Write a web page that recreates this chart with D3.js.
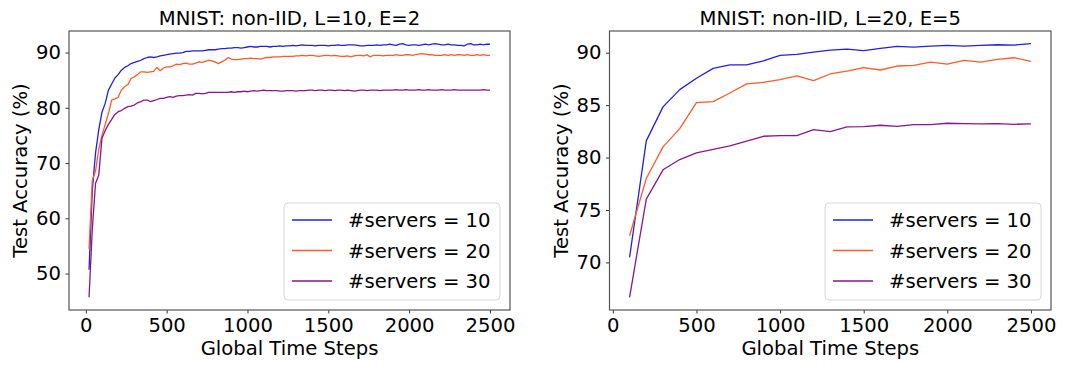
<!DOCTYPE html>
<html><head><meta charset="utf-8">
<script src="https://cdn.jsdelivr.net/npm/d3@7"></script>
<style>body{margin:0;background:#fff}svg{display:block}text{font-family:"DejaVu Sans",sans-serif;fill:#000}</style>
</head><body><svg id="c" width="1081" height="366"></svg>
<script>
// ---- data ----
const seriesNames = ["#servers = 10", "#servers = 20", "#servers = 30"];
const seriesColors = ["#2020e6", "#ff5a28", "#8a168a"];

const leftSteps = d3.range(20, 2501, 20);
const leftS10 = [50.7,65.0,71.8,76.0,79.2,80.8,83.2,84.3,85.4,86.0,86.8,87.3,87.6,88.0,88.2,88.4,88.6,88.9,89.1,89.2,
89.1,89.2,89.4,89.5,89.6,89.7,89.8,89.9,89.9,90.0,90.2,90.2,90.3,90.3,90.3,90.3,90.4,90.5,90.5,90.5,
90.6,90.7,90.7,90.8,90.8,90.9,90.9,90.8,90.9,91.0,91.1,91.0,91.0,91.1,91.1,91.1,91.0,91.1,91.1,91.2,
91.1,91.2,91.2,91.3,91.2,91.3,91.4,91.3,91.3,91.3,91.2,91.3,91.3,91.3,91.2,91.3,91.3,91.4,91.3,91.3,
91.4,91.4,91.4,91.3,91.2,91.2,91.3,91.3,91.3,91.4,91.3,91.4,91.4,91.5,91.4,91.3,91.5,91.6,91.4,91.3,
91.4,91.4,91.3,91.4,91.5,91.4,91.5,91.6,91.5,91.4,91.4,91.5,91.4,91.4,91.3,91.3,91.2,91.5,91.6,91.4,
91.4,91.5,91.4,91.5,91.5];
const leftS20 = [54.5,66.9,68.5,72.5,75.0,77.0,79.0,81.4,81.6,81.9,83.2,83.8,84.2,85.3,85.6,86.0,86.5,86.5,86.4,86.5,
86.6,87.3,86.7,87.2,87.4,87.4,87.6,87.9,87.8,88.0,88.1,87.9,87.9,88.1,88.3,88.2,88.4,88.6,88.5,88.3,
88.0,88.3,88.6,89.1,88.8,88.7,88.7,88.8,88.9,88.9,89.0,88.9,88.9,88.8,89.0,89.1,89.1,89.2,89.2,89.2,
89.3,89.3,89.3,89.3,89.4,89.4,89.5,89.4,89.5,89.5,89.4,89.3,89.4,89.5,89.5,89.4,89.5,89.4,89.3,89.3,
89.4,89.2,89.4,89.5,89.5,89.4,89.6,89.2,89.5,89.5,89.5,89.4,89.5,89.5,89.5,89.6,89.5,89.5,89.6,89.6,
89.5,89.6,89.7,89.8,89.7,89.6,89.6,89.5,89.5,89.5,89.6,89.5,89.6,89.5,89.6,89.6,89.5,89.6,89.5,89.5,
89.6,89.5,89.6,89.5,89.5];
const leftS30 = [45.7,58.0,66.3,67.8,74.5,75.9,77.0,77.9,78.8,79.3,79.5,79.9,80.2,80.3,80.5,80.9,81.1,81.4,81.4,81.1,
81.3,81.5,81.7,81.7,81.9,82.0,81.9,82.1,82.2,82.2,82.3,82.4,82.3,82.6,82.6,82.5,82.6,82.8,82.8,82.8,
82.8,82.8,82.8,82.8,82.9,82.8,82.9,82.9,83.0,82.9,83.0,83.1,83.0,83.1,83.2,83.1,83.1,83.1,83.1,83.0,
83.0,83.1,83.1,83.1,83.0,83.1,83.1,83.1,83.2,83.2,83.1,83.2,83.2,83.1,83.2,83.2,83.1,83.2,83.2,83.1,
83.2,83.1,83.0,83.1,83.2,83.2,83.1,83.2,83.2,83.2,83.1,83.2,83.2,83.2,83.2,83.3,83.2,83.2,83.3,83.2,
83.2,83.2,83.3,83.2,83.2,83.3,83.2,83.2,83.2,83.3,83.2,83.2,83.2,83.3,83.2,83.2,83.2,83.2,83.2,83.2,
83.2,83.2,83.3,83.2,83.2];

const rightSteps = [100,200,300,400,500,600,700,800,900,1000,1100,1200,1300,1400,1500,1600,1700,1800,1900,2000,2100,2200,2300,2400,2500];
const rightS10 = [70.48,81.59,84.83,86.48,87.56,88.51,88.83,88.83,89.21,89.75,89.84,90.06,90.25,90.35,90.19,90.41,90.60,90.54,90.63,90.70,90.63,90.70,90.76,90.73,90.86];
const rightS20 = [72.54,78.00,81.02,82.76,85.24,85.33,86.16,87.02,87.17,87.43,87.78,87.33,87.97,88.25,88.57,88.35,88.73,88.79,89.11,88.92,89.27,89.11,89.37,89.52,89.17];
const rightS30 = [66.67,76.03,78.83,79.81,80.44,80.79,81.11,81.56,82.03,82.10,82.10,82.67,82.48,82.92,82.95,83.08,82.98,83.14,83.14,83.27,83.24,83.21,83.24,83.17,83.21];

const xTicks = [0,500,1000,1500,2000,2500];
const leftYTicks = [50,60,70,80,90];
const rightYTicks = [70,75,80,85,90];

const titles = ["MNIST: non-IID, L=10, E=2", "MNIST: non-IID, L=20, E=5"];
const xLabel = "Global Time Steps";
const yLabel = "Test Accuracy (%)";

// ---- drawing ----
const svg = d3.select("#c");
const FS = "19.6px";

function panel(box, steps, series, yTicks, title) {
  const all = series.flat();
  const xmin = d3.min(steps), xmax = d3.max(steps);
  const ymin = d3.min(all), ymax = d3.max(all);
  const xm = (xmax - xmin) * 0.05, ym = (ymax - ymin) * 0.05;
  const x = d3.scaleLinear().domain([xmin - xm, xmax + xm]).range([box.l, box.r]);
  const y = d3.scaleLinear().domain([ymin - ym, ymax + ym]).range([box.b, box.t]);
  const g = svg.append("g");

  const line = d3.line().x(d => x(d[0])).y(d => y(d[1]));
  series.forEach((s, i) => {
    g.append("path").datum(steps.map((t, j) => [t, s[j]]))
      .attr("d", line).attr("fill", "none")
      .attr("stroke", seriesColors[i]).attr("stroke-width", 1.3)
      .attr("stroke-linejoin", "round");
  });

  const xa = g.append("g").attr("transform", `translate(0,${box.b})`)
    .call(d3.axisBottom(x).tickValues(xTicks).tickSize(3.5).tickPadding(5).tickFormat(d3.format("d")));
  const ya = g.append("g").attr("transform", `translate(${box.l},0)`)
    .call(d3.axisLeft(y).tickValues(yTicks).tickSize(3.5).tickPadding(4.5).tickFormat(d3.format("d")));
  [xa, ya].forEach(a => {
    a.select(".domain").remove();
    a.selectAll("line").attr("stroke", "#333").attr("stroke-width", 1);
    a.selectAll("text").style("font-size", FS).style("font-family", "DejaVu Sans").attr("fill", "#000");
  });

  g.append("rect").attr("x", box.l).attr("y", box.t)
    .attr("width", box.r - box.l).attr("height", box.b - box.t)
    .attr("fill", "none").attr("stroke", "#555").attr("stroke-width", 1.2);

  g.append("text").attr("x", (box.l + box.r) / 2).attr("y", box.t - 6)
    .attr("text-anchor", "middle").style("font-size", FS).text(title);
  g.append("text").attr("x", (box.l + box.r) / 2).attr("y", box.b + 45)
    .attr("text-anchor", "middle").style("font-size", FS).text(xLabel);
  g.append("text").attr("transform", `translate(${box.l - 42},${(box.t + box.b) / 2}) rotate(-90)`)
    .attr("text-anchor", "middle").style("font-size", FS).text(yLabel);

  // legend
  const lg = g.append("g").attr("transform", `translate(${box.r - 226},${box.b - 107})`);
  lg.append("rect").attr("width", 216).attr("height", 97).attr("rx", 4)
    .attr("fill", "#fff").attr("fill-opacity", 0.8).attr("stroke", "#d6d6d6");
  seriesNames.forEach((n, i) => {
    const yy = 17 + i * 30.5;
    lg.append("line").attr("x1", 8).attr("x2", 48).attr("y1", yy).attr("y2", yy)
      .attr("stroke", seriesColors[i]).attr("stroke-width", 1.3);
    lg.append("text").attr("x", 64).attr("y", yy + 7).style("font-size", FS).text(n);
  });
}

panel({l: 69, r: 510, t: 31, b: 310}, leftSteps, [leftS10, leftS20, leftS30], leftYTicks, titles[0]);
panel({l: 609.5, r: 1051, t: 31, b: 310}, rightSteps, [rightS10, rightS20, rightS30], rightYTicks, titles[1]);
</script></body></html>
